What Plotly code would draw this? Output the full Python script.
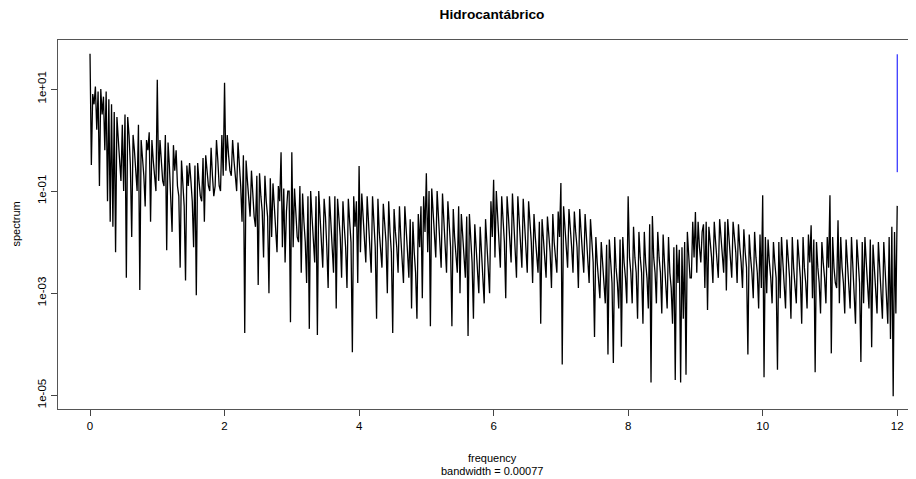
import numpy as np
import plotly.graph_objects as go

# Periodogram: log10(spectrum), one row per unit of frequency, step 0.02
log_spec_rows = [
    [1.69, -0.49, 0.9, 0.7, 1.05, 0.2, 0.95, -0.9, 1.0, 0.5, 0.85, -0.2, 0.95, -1.2, 0.8, -1.6, 0.7, -1.7, 0.55, -2.2,
     0.45, 0.1, -0.4, -0.8, 0.3, -1.0, 0.5, -2.7, 0.45, 0.1, -0.5, -1.9, 0.1, -0.2, -0.6, -1.0, 0.3, -2.94, 0.0, -0.3,
     -0.7, -1.3, 0.0, -0.2, 0.15, -1.6, 0.0, -0.4, -0.8, -1.0],
    [1.18, -0.8, 0.0, -0.4, -0.8, -0.9, 0.1, -2.16, -0.05, -0.5, -1.2, -1.8, -0.1, -0.6, -0.2, -0.9, -1.1, -2.5, -0.4, -0.8,
     -1.3, -2.75, -0.5, -0.9, -0.45, -0.8, -1.2, -2.1, -0.5, -3.04, -0.45, -0.8, -1.1, -1.2, -0.35, -1.6, -0.3, -0.6, -0.9, -1.0,
     -0.15, -0.7, -1.1, -0.9, 0.0, -0.4, -0.9, -1.0, 0.1, -0.7],
    [1.12, -0.6, 0.1, -0.3, -0.6, -0.7, 0.0, -0.4, -0.8, -1.0, -0.05, -0.4, -0.9, -1.6, -0.3, -3.78, -0.4, -0.8, -1.1, -1.5,
     -0.6, -1.2, -1.5, -1.7, -0.7, -2.84, -0.65, -1.1, -1.4, -2.3, -0.7, -1.2, -1.5, -3.0, -0.75, -1.9, -0.85, -1.3, -1.7, -2.2,
     -0.9, -1.2, -0.24, -2.1, -0.95, -2.4, -1.4, -1.0, -1.0, -3.57],
    [-0.24, -2.1, -0.95, -1.5, -1.9, -2.0, -0.9, -2.6, -1.05, -1.6, -2.0, -2.8, -1.1, -3.7, -1.0, -1.5, -1.9, -2.4, -1.1, -3.82,
     -1.0, -1.6, -1.9, -2.5, -1.15, -1.5, -2.1, -2.9, -1.1, -1.6, -2.0, -2.6, -1.1, -3.3, -1.15, -1.5, -1.9, -2.7, -1.2, -1.7,
     -2.1, -2.9, -1.15, -1.6, -2.0, -4.16, -1.1, -1.7, -1.2, -2.8],
    [-0.51, -2.2, -1.05, -1.5, -1.9, -2.4, -1.1, -1.6, -2.0, -2.6, -1.1, -1.7, -2.1, -3.5, -1.15, -1.8, -2.2, -2.5, -1.25, -1.7,
     -2.0, -3.0, -1.2, -1.8, -2.2, -3.78, -1.35, -1.8, -2.1, -2.6, -1.3, -1.9, -2.3, -2.8, -1.3, -1.9, -2.2, -2.7, -1.55, -3.3,
     -1.6, -2.2, -2.6, -3.5, -1.45, -2.1, -1.3, -3.1, -1.1, -1.8],
    [-0.65, -2.2, -1.0, -3.65, -0.95, -1.4, -1.8, -2.3, -1.0, -1.5, -1.9, -2.5, -1.05, -1.6, -2.0, -2.6, -1.2, -1.8, -2.1, -3.65,
     -1.35, -1.9, -2.2, -2.6, -1.3, -3.0, -1.45, -1.9, -2.3, -2.7, -1.5, -3.84, -1.45, -2.0, -2.4, -3.5, -1.65, -2.1, -2.5, -3.0,
     -1.7, -2.2, -2.6, -3.2, -1.55, -2.1, -2.5, -3.0, -1.2, -1.9],
    [-0.78, -2.3, -1.0, -1.5, -1.9, -2.5, -1.1, -1.6, -2.0, -3.1, -1.1, -1.5, -1.9, -2.4, -1.05, -1.7, -2.0, -2.7, -1.1, -1.6,
     -1.9, -2.5, -1.15, -1.7, -2.1, -2.6, -1.2, -1.7, -2.0, -2.8, -1.45, -1.9, -2.2, -2.6, -1.6, -3.6, -1.55, -2.0, -2.3, -2.7,
     -1.5, -1.9, -2.2, -2.9, -1.45, -2.0, -2.3, -2.6, -1.4, -1.9],
    [-0.84, -4.4, -1.3, -1.7, -2.0, -2.5, -1.35, -1.7, -2.1, -2.6, -1.4, -1.8, -2.1, -2.9, -1.35, -1.8, -2.2, -2.6, -1.45, -1.9,
     -2.2, -2.8, -1.55, -2.0, -2.4, -3.86, -1.9, -2.4, -2.7, -3.1, -2.0, -2.4, -2.7, -3.2, -2.05, -4.2, -1.95, -2.5, -2.8, -4.37,
     -1.9, -2.5, -2.8, -3.3, -1.95, -4.05, -1.9, -2.4, -2.7, -3.2],
    [-1.1, -2.3, -2.6, -3.2, -1.7, -2.3, -2.6, -3.5, -1.8, -2.3, -2.6, -3.6, -1.8, -2.4, -2.7, -3.3, -1.65, -4.75, -1.49, -2.3,
     -2.6, -3.2, -1.8, -2.3, -2.6, -3.4, -1.85, -2.4, -2.8, -3.3, -1.9, -2.6, -2.9, -3.6, -2.1, -4.7, -2.05, -2.8, -2.15, -4.75,
     -2.1, -3.5, -2.0, -4.6, -1.8, -2.4, -2.7, -2.7, -1.6, -2.3],
    [-1.41, -2.6, -1.6, -2.1, -2.4, -1.8, -1.65, -2.9, -1.6, -3.33, -1.7, -2.0, -2.3, -2.8, -1.6, -2.0, -2.3, -2.7, -1.55, -1.9,
     -2.2, -2.6, -1.6, -2.95, -1.55, -2.0, -2.3, -2.7, -1.6, -1.9, -2.2, -2.8, -1.65, -2.1, -2.4, -2.9, -1.75, -2.2, -2.5, -4.2,
     -1.85, -2.3, -2.6, -3.1, -1.8, -2.3, -2.6, -3.3, -1.85, -2.9],
    [-1.08, -4.65, -1.9, -3.0, -1.95, -2.4, -2.7, -3.2, -2.0, -2.4, -2.7, -4.5, -2.0, -3.1, -1.9, -2.4, -2.8, -3.3, -1.95, -2.4,
     -2.7, -3.5, -1.9, -2.5, -2.8, -3.2, -1.95, -2.4, -2.7, -3.6, -1.9, -2.5, -2.8, -3.3, -1.85, -2.4, -1.67, -3.1, -1.95, -4.55,
     -2.0, -2.5, -2.8, -3.4, -2.0, -2.4, -2.7, -3.2, -1.9, -2.5],
    [-1.08, -4.18, -1.9, -2.5, -2.8, -2.9, -1.57, -3.2, -1.9, -2.5, -2.8, -3.4, -1.95, -2.4, -2.8, -3.3, -1.9, -2.5, -2.8, -3.6,
     -1.95, -2.5, -2.8, -4.35, -2.0, -3.2, -1.9, -2.4, -2.8, -3.3, -1.95, -4.06, -2.05, -2.5, -2.8, -3.4, -2.0, -2.5, -2.8, -3.5,
     -2.0, -2.6, -2.9, -3.6, -1.9, -3.9, -1.7, -5.02, -1.8, -3.4],
    [-1.29],
]
log_spec = [v for row in log_spec_rows for v in row]
freq = np.linspace(0, 12, len(log_spec))
spectrum = [10 ** v for v in log_spec]

ci_freq = [12, 12]
ci_log = [1.68, -0.63]
ci_vals = [10 ** v for v in ci_log]

x_ticks = [0, 2, 4, 6, 8, 10, 12]
y_ticks = [1e1, 1e-1, 1e-3, 1e-5]
y_ticktext = ["1e+01", "1e-01", "1e-03", "1e-05"]

FONT = "Liberation Sans, Arial, sans-serif"

# the page body adds an 8px offset; the figure is sized so the plot box lands where the reference has it
fig = go.Figure()
fig.add_trace(go.Scatter(x=freq, y=spectrum, mode="lines",
                         line=dict(color="black", width=1.3), hoverinfo="skip"))
fig.add_trace(go.Scatter(x=ci_freq, y=ci_vals, mode="lines",
                         line=dict(color="blue", width=1), hoverinfo="skip"))

fig.update_layout(
    width=908, height=471,
    margin=dict(l=50, r=6, t=32, b=70, autoexpand=False),
    paper_bgcolor="white", plot_bgcolor="white",
    showlegend=False,
    font=dict(family=FONT, size=11, color="black"),
    title=dict(text="<b>Hidrocantábrico</b>", x=484 / 908, xanchor="center",
               y=1 - 6 / 471, yanchor="middle", font=dict(size=13.7, family=FONT)),
)
fig.update_xaxes(range=[-0.476, 12.19], tickvals=x_ticks, ticks="outside", ticklen=6,
                 tickcolor="#444", showline=True, linecolor="#555", linewidth=1, mirror=True,
                 showgrid=False, zeroline=False, tickfont=dict(size=11.5), automargin=False)
fig.update_yaxes(type="log", range=[-5.27, 1.96], tickvals=y_ticks, ticktext=y_ticktext,
                 tickangle=-90, ticks="outside", ticklen=6, tickcolor="#444",
                 showline=True, linecolor="#555", linewidth=1, mirror=True,
                 showgrid=False, zeroline=False, tickfont=dict(size=11.5), automargin=False)

center_x = (492 - 58) / 852
fig.add_annotation(text="frequency", xref="paper", yref="paper", x=center_x,
                   y=(409 - 457.5) / 369, showarrow=False, xanchor="center", yanchor="middle",
                   font=dict(size=11))
fig.add_annotation(text="bandwidth = 0.00077", xref="paper", yref="paper", x=center_x,
                   y=(409 - 470.5) / 369, showarrow=False, xanchor="center", yanchor="middle",
                   font=dict(size=11))
fig.add_annotation(text="spectrum", xref="paper", yref="paper", x=(15 - 58) / 852,
                   y=0.5, showarrow=False, textangle=-90, xanchor="center", yanchor="middle",
                   font=dict(size=11))

fig.write_html("out.html")
